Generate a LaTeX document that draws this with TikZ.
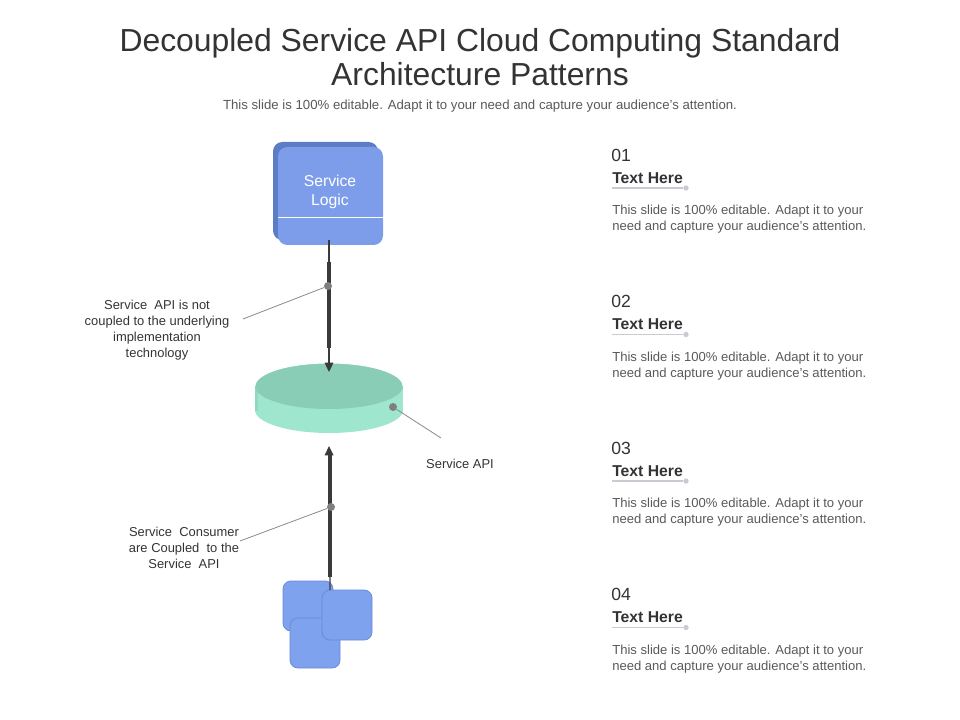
\documentclass[tikz,border=0pt]{standalone}
\usepackage{fontspec}
\setmainfont{Liberation Sans}
\usetikzlibrary{arrows.meta,shapes.geometric}
\definecolor{titlec}{HTML}{333333}
\definecolor{subc}{HTML}{595959}
\definecolor{boxfront}{HTML}{7D9DEB}
\definecolor{boxback}{HTML}{5D7CC6}
\definecolor{disctop}{HTML}{89CDB7}
\definecolor{discside}{HTML}{9EE6CD}
\definecolor{disccedge}{HTML}{7FC2AC}
\definecolor{sqfill}{HTML}{7FA2EE}
\definecolor{sqedge}{HTML}{6A8BD6}
\definecolor{linec}{HTML}{3A3A3A}
\definecolor{leadc}{HTML}{8A8A8A}
\definecolor{dotc}{HTML}{7F7F7F}
\definecolor{ulc}{HTML}{C9CBD3}
\tikzset{
  titletext/.style={font=\fontsize{23.9}{25.5}\selectfont, text=titlec, align=center},
  subtext/.style={font=\fontsize{9.9}{11}\selectfont, text=subc},
  numtext/.style={font=\fontsize{13.2}{14}\selectfont, text=titlec, anchor=west, inner sep=0pt},
  headtext/.style={font=\bfseries\fontsize{11.8}{12}\selectfont, text=titlec, anchor=west, inner sep=0pt},
  desctext/.style={font=\fontsize{9.8}{12}\selectfont, text=subc, anchor=north west, align=left, inner sep=0pt},
  sidelabel/.style={font=\fontsize{9.7}{12}\selectfont, text=titlec, align=center, inner sep=0pt},
  thinline/.style={draw=linec, line width=0.9pt},
  thickline/.style={draw=linec, line width=3pt},
  leader/.style={draw=leadc, line width=0.6pt},
  gdot/.style={circle, fill=dotc, inner sep=0pt, minimum size=6pt},
  uline/.style={draw=ulc, line width=1.1pt},
  udot/.style={circle, fill=ulc, inner sep=0pt, minimum size=4pt},
  sq/.style={draw=sqedge, fill=sqfill, line width=0.6pt, rounded corners=6pt},
  arrowtip/.style={-{Triangle[length=7pt,width=6.5pt]}}
}
\begin{document}
\begin{tikzpicture}[x=0.75pt,y=-0.75pt]
\useasboundingbox (0,0) rectangle (960,720);
% title
\node[titletext] (title) at (480,57) {Decoupled Service API Cloud Computing Standard\\Architecture Patterns};
\node[subtext] (sub) at (480,106) {This slide is 100\% editable. Adapt it to your need and capture your audience’s attention.};

% Service Logic box
\fill[boxback, rounded corners=7pt] (273,142) rectangle (378,240);
\fill[boxfront, rounded corners=7pt] (278,147) rectangle (383,245);
\node[minimum width=78.75pt, minimum height=73.5pt, inner sep=0pt] (logic) at (330.5,196) {};
\draw[white, line width=0.8pt] (278,217.5) -- (383,217.5);
\node[font=\fontsize{11.8}{14.5}\selectfont, text=white, align=center] (logictxt) at (330,192) {Service\\Logic};

% disc
\fill[discside] (255,386) rectangle (403,410);
\fill[discside] (329,410) ellipse [x radius=55.5pt, y radius=17.25pt];
\fill[disccedge, opacity=0.35] (255,386) rectangle (258,411);
\fill[disctop] (329,386) ellipse [x radius=55.5pt, y radius=17.25pt];
\draw[white, line width=0.7pt] (255,386) arc [start angle=180, end angle=360, x radius=55.5pt, y radius=-17.25pt];
\node[ellipse, minimum width=111pt, minimum height=34.5pt, inner sep=0pt] (disc) at (329,386) {};
\coordinate (disctopc) at (329,372);
\coordinate (discbot) at (329,446);

% upper connector
\coordinate (uA) at (329,240);
\draw[thinline, arrowtip] (uA) -- (disctopc);
\coordinate (ut1) at (329,262);
\coordinate (ut2) at (329,348);
\draw[thickline] (ut1) -- (ut2);
\node[gdot] (udotn) at (328,286) {};
\coordinate (uleadend) at (243,319);
\draw[leader] (udotn) -- (uleadend);
\node[sidelabel] (ulabel) at (157,330) {Service\ \ API is not\\coupled to the underlying\\implementation\\technology};

% stacked squares
\draw[sq] (283,581) rectangle (333,631);
\draw[sq] (290,618) rectangle (340,668);
\draw[sq] (322,590) rectangle (372,640);
\coordinate (sqtop) at (330,590);

% lower connector
\draw[thinline, arrowtip] (sqtop) -- (discbot);
\coordinate (lt1) at (330,452);
\coordinate (lt2) at (330,577);
\draw[thickline] (lt1) -- (lt2);
\node[gdot] (ldotn) at (331,507) {};
\coordinate (lleadend) at (240,541);
\draw[leader] (ldotn) -- (lleadend);
\node[sidelabel] (llabel) at (184,548) {Service\ \ Consumer\\are Coupled\ \ to the\\Service\ \ API};

% disc label
\node[gdot] (ddot) at (393,407) {};
\coordinate (dleadend) at (441,438);
\draw[leader] (ddot) -- (dleadend);
\node[sidelabel] (dlabel) at (460,464) {Service API};

% right column
\foreach \n/\yy in {01/155, 02/301.5, 03/448, 04/594.5}{
  \node[numtext] (num\n) at (611,\yy) {\n};
  \node[headtext] (head\n) at (612,\yy+23) {Text Here};
  \coordinate (ul\n) at (612,\yy+33);
  \node[udot] (ud\n) at (686,\yy+33) {};
  \draw[uline] (ul\n) -- (ud\n);
  \node[desctext] (desc\n) at (612,\yy+50) {This slide is 100\% editable. Adapt it to your\\need and capture your audience’s attention.};
}
\end{tikzpicture}
\end{document}
